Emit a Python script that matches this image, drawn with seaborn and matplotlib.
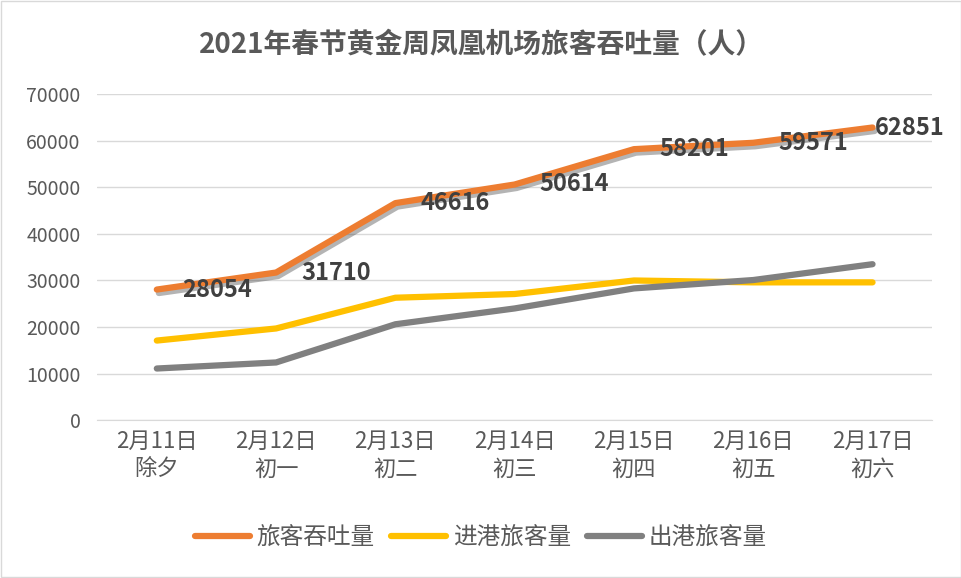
import numpy as np
import pandas as pd
import matplotlib.pyplot as plt
import seaborn as sns
import matplotlib.patheffects as pe

dates = ['2月11日\n除夕', '2月12日\n初一', '2月13日\n初二', '2月14日\n初三',
         '2月15日\n初四', '2月16日\n初五', '2月17日\n初六']
total = [28054, 31710, 46616, 50614, 58201, 59571, 62851]
arrivals = [17100, 19700, 26300, 27100, 30000, 29600, 29600]
departures = [11100, 12400, 20600, 24000, 28300, 30100, 33500]
series_names = ['旅客吞吐量', '进港旅客量', '出港旅客量']
colors = ['#ED7D31', '#FFC000', '#808080']

df = pd.DataFrame({'x': np.arange(len(dates))})
df[series_names[0]] = total
df[series_names[1]] = arrivals
df[series_names[2]] = departures
long_df = df.melt(id_vars='x', var_name='series', value_name='value')

sns.set_style('white')
plt.rcParams['font.family'] = ['Noto Sans CJK SC', 'DejaVu Sans']

fig = plt.figure(figsize=(9.62, 5.78), dpi=100)
ax = fig.add_axes([0.101, 0.273, 0.868, 0.564])

sns.lineplot(data=long_df, x='x', y='value', hue='series', palette=colors,
             linewidth=4.5, ax=ax, legend=True)
ax.get_lines()[0].set_path_effects([
    pe.SimpleLineShadow(offset=(1.5, -2.5), alpha=0.4, shadow_color='#444444'),
    pe.Normal()])
for ln in ax.get_lines():
    ln.set_solid_capstyle('round')
    ln.set_solid_joinstyle('round')

for i, v in enumerate(total):
    dx = 18 if i < len(total) - 1 else 1.5
    ax.annotate(str(v), (i, v), xytext=(dx, 0), textcoords='offset points',
                ha='left', va='center', fontsize=17, fontweight='bold', color='#404040')

ax.set_xlim(-0.5, len(dates) - 0.5)
ax.set_ylim(0, 70000)
ax.set_yticks(range(0, 70001, 10000))
ax.set_xticks(range(len(dates)))
ax.set_xticklabels(dates)
ax.tick_params(axis='y', labelsize=14, labelcolor='#595959', length=0, pad=12)
ax.tick_params(axis='x', labelsize=16, labelcolor='#595959', length=0, pad=7)
for lab in ax.get_xticklabels():
    lab.set_linespacing(1.25)
ax.yaxis.grid(True, color='#d9d9d9', linewidth=1)
ax.set_axisbelow(True)
for s in ['top', 'right', 'left']:
    ax.spines[s].set_visible(False)
ax.spines['bottom'].set_color('#d9d9d9')
ax.set_xlabel('')
ax.set_ylabel('')

handles, labels = ax.get_legend_handles_labels()
ax.legend(handles, labels, loc='center', bbox_to_anchor=(0.5, 0.069),
          bbox_transform=fig.transFigure, ncol=3, frameon=False,
          fontsize=17, labelcolor='#595959', handlelength=2.3,
          columnspacing=0.7, handletextpad=0.3)
for h in ax.get_legend().get_lines():
    h.set_linewidth(4.5)
    h.set_solid_capstyle('round')

fig.text(0.5, 0.922, '2021年春节黄金周凤凰机场旅客吞吐量（人）', ha='center', va='center',
         fontsize=20, fontweight='bold', color='#595959')

fig.patches.append(plt.Rectangle((0.001, 0.001), 0.998, 0.998, transform=fig.transFigure,
                                 fill=False, edgecolor='#d9d9d9', linewidth=1))

fig.savefig('out.png', dpi=100)
